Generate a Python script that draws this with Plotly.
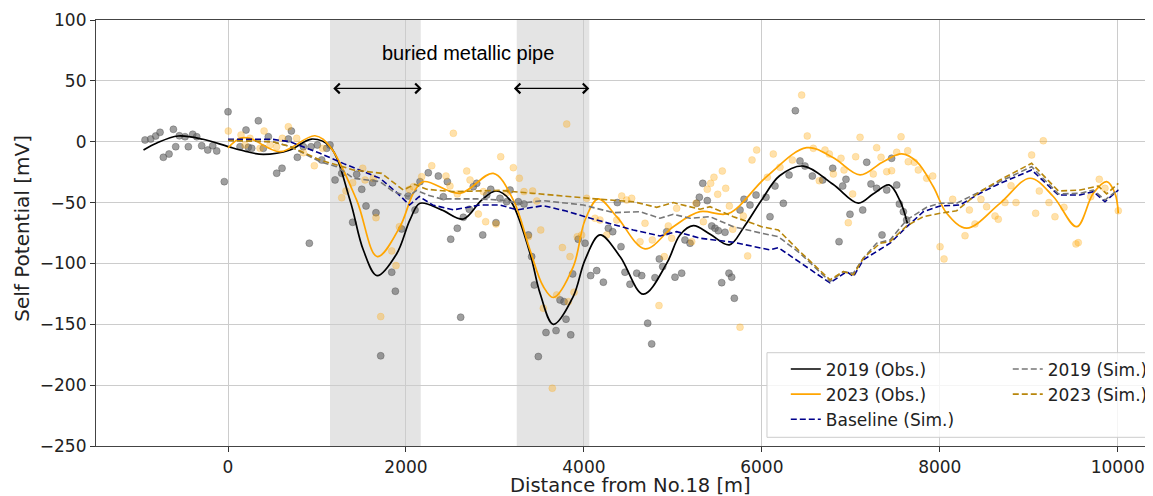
import plotly.graph_objects as go

# ---------------- data ----------------
# scatter observations 2019 (gray)
obs2019_x = [-933, -869, -813, -764, -727, -663, -614, -588, -547, -483, -446, -397, -352, -296, -228, -172, -127, -42,
             0, 135, 202, 228, 266, 341, 397, 453, 547, 607, 678, 712, 779, 847, 914, 933, 1004, 1053, 1109,
             1146, 1203, 1278, 1401, 1446, 1503, 1551, 1626, 1663, 1716, 1840, 1881, 1952, 2027, 2102, 2158,
             2251, 2364, 2420, 2465, 2503, 2577, 2615, 2645, 2712, 2757, 2795, 2863, 2908, 2953, 3012, 3057,
             3132, 3170, 3263, 3327, 3376, 3413, 3443, 3488, 3574, 3687, 3732, 3777, 3799, 3852, 3874, 3937,
             4013, 4076, 4144, 4219, 4275, 4324, 4376, 4417, 4462, 4518, 4594, 4650, 4717, 4762, 4799, 4848,
             4886, 4931, 5024, 5099, 5136, 5193, 5268, 5298, 5336, 5387, 5437, 5474, 5511, 5549, 5586, 5631,
             5661, 5691, 5755, 5800, 5867, 5935, 6047, 6092, 6148, 6242, 6306, 6377, 6429, 6485, 6568, 6684,
             6797, 6868, 6909, 6946, 6991, 7134, 7179, 7227, 7291, 7351, 7404, 7459, 7516, 7546, 7591, 7628]
obs2019_y = [1.4, 2.2, 4.7, 7.7, -12.8, -10.1, 10.2, -4.1, 4.9, 4.1, -4.1, 6.1, 4.1, -3.3, -6.8, -3.3, -7.6, -32.8,
             24.6, -4.1, 9.6, -4.6, -5.4, 17.2, -5.4, 4.1, -25.9, -21.8, 2.2, 8.8, -12.8, -4.1, -83.4, -4.1, -2.7, -15, -5.4,
             -2.7, -31.4, -26, -66.2, -26.8, -39.1, -52.8, -33.7, -58.3, -175.9, -107.2, -122.8, -71.7, -44.6, -56.1, -32.8,
             -25.5, -28.2, -45.2, -32.8, -80.1, -71.1, -144.2, -62.1, -55.5, -36.9, -34.2, -76.6, -43.8, -39.1, -66.5, -46.5,
             -49.3, -39.7, -49.3, -51.2, -76.6, -94.4, -117.7, -176.5, -156.8, -155.2, -130, -131.4, -145.8, -158.7, -108.6, -80.1,
             -83.4, -110, -105.9, -115.4, -71.1, -73.9, -50, -86.2, -107.2, -117.1, -108, -110, -149.1, -166.1, -111.7, -96.3,
             -102.6, -73.9, -111.3, -108, -80.7, -83.4, -50.6, -45.6, -34.2, -48.4, -69.2, -71.1, -73.1, -115.8, -74.4, -108,
             -111.3, -128.6, -56.1, -47.3, -52, -43.8, -45.6, -61.6, -36.4, -50.6, -27.3, 25.5, -15.8, -20, -28.2, -31.4,
             -21.8, -82.1, -36.4, -30.9, -59.6, -56.1, -16.9, -34.7, -38.3, -76.6, -39.7, -13.6, -35.5, -51.1, -57.5, -64.3]

# scatter observations 2023 (orange)
obs2023_x = [3, 146, 191, 247, 360, 405, 472, 547, 610, 678, 772, 847, 970, 1064,
             1278, 1326, 1401, 1514, 1540, 1633, 1663, 1716, 1840, 1888, 1926, 2038, 2083, 2177, 2290, 2450,
             2495, 2533, 2577, 2683, 2720, 2814, 2870, 2896, 3012, 3065, 3132, 3207, 3274, 3327, 3424, 3470,
             3376, 3515, 3544, 3645, 3694, 3758, 3807, 3825, 3844, 3889, 3926, 3975, 4032, 4125, 4181, 4256,
             4369, 4425, 4481, 4537, 4631, 4687, 4769, 4844, 4904, 4949, 4987, 5043, 5212, 5260, 5343, 5387,
             5425, 5462, 5504, 5556, 5594, 5635, 5673, 5755, 5792, 5841, 5890, 5942, 6062, 6129, 6204, 6343,
             6448, 6511, 6579, 6646, 6710, 6759, 6804, 6890, 6924, 6972, 7021, 7055, 7104, 7253, 7291, 7340,
             7404, 7459, 7516, 7565, 7640, 7646, 7714, 7759, 7853, 7921, 8003, 8048, 8145, 8284, 8333, 8396,
             8463, 8527, 8621, 8658, 8733, 8801, 8857, 9033, 9078, 9119, 9164, 9228, 9295, 9396, 9531, 9557,
             9697, 9793, 9857, 10007]
obs2023_y = [8.8, 5.5, -2.7, 2.8, -5.4, 8.8, -2.7, -4.1, 2.8, 12.3, 2.8, -9, -19.7, -5.4,
             -46, -40.5, -33.7, -21.8, -31.4, -30, -62.4, -143.7, -89.7, -101.8, -69.8, -39.1, -36.9, -28.7, -19.7, -28.2,
             -36.4, 6.9, -42.9, -24.1, -31.4, -59.4, -41, -65.7, -67.6, -12.3, -41.9, -21.3, -30, -41, -40.5, -48.7,
             -78, -72.5, -136.8, -202.5, -125.9, -87, 14.5, -131.4, -94.4, -123.6, -78, -76.6, -46.5, -62.9, -64.3, -76.6,
             -64.3, -44.6, -47.9, -46.5, -82.1, -67, -80.7, -134.6, -94.4, -69.2, -79.3, -54.7, -82.1, -50.6, -65.7, -39.1,
             -34.2, -29.2, -43.2, -24.1, -38.3, -52.8, -71.9, -152.4, -61, -93.8, -15, -6.8, -29.2, -10.1, -21, -15,
             38.3, 4.7, -5.4, -32, -6.8, -10.1, -26.5, -13.6, -23.2, -66.5, -42.9, -12.3, 3.6, -26.5, -4.9, -12.8,
             -24.6, -23.8, -8.7, 4.1, -7.4, -16.4, -16.9, -23.2, -30, -28.2, -86.2, -96.3, -47.3, -77.2, -56.1, -67.6,
             -47.3, -53.4, -61, -63.7, -50, -36.1, -50, -10.9, -58.8, -40.5, 0.8, -50, -61.6, -53.9, -84, -82.9,
             -45.2, -30.9, -38.3, -56.7]

# smoothed observed profiles
fit2019_x = [-950, -800, -560, -280, 0, 200, 397, 697, 940, 1146, 1371, 1521, 1675, 1896, 2046, 2158, 2400, 2645,
             2850, 3012, 3170, 3394, 3507, 3657, 3881, 4013, 4181, 4406, 4668, 4931, 5080, 5230, 5420, 5635,
             5800, 5998, 6200, 6467, 6800, 7085, 7250, 7430, 7550, 7636]
fit2019_y = [-6.8, -1, 4.7, 2, -4, -8, -10.4, -6.8, 2.2, -4, -48, -89, -110, -92, -64, -50.6, -56, -63.5,
             -48, -40.5, -48, -91.6, -124.5, -150, -127, -97, -76.6, -94.4, -125.3, -100, -76.6, -69, -76, -84.7,
             -70, -47.9, -28, -20, -35, -50.5, -43, -35.5, -48, -67]

fit2023_x = [0, 135, 240, 584, 978, 1146, 1446, 1678, 1933, 2083, 2196, 2608, 2982, 3207, 3394, 3544, 3657, 3881,
             4013, 4162, 4369, 4687, 5005, 5305, 5623, 6054, 6504, 6800, 7104, 7350, 7572, 7741, 7928, 8078,
             8303, 8677, 9014, 9276, 9539, 9726, 9876, 9970, 10007]
fit2023_y = [-5, 2.8, 3, -8.2, 4.9, -4, -48, -94.4, -69.8, -42.4, -32.8, -42.4, -26, -48, -89, -119, -128, -102.6,
             -64.3, -47, -61.6, -88, -69.8, -57.5, -59, -28.7, -4.9, -13, -27.3, -17, -10, -16.4, -37, -58.8,
             -71, -50.6, -30, -45, -69.8, -42.4, -32.8, -42.4, -58.8]

# simulated profiles
sim_x_base = [0, 500, 697, 1034, 1300, 1708, 1900, 2040, 2150, 2300, 2533, 2832, 3057, 3250, 3544, 3800, 4144,
              4555, 4856, 5043, 5305, 5680, 6092, 6185, 6766, 6954, 7029, 7141, 7441, 7628, 7815, 8003, 8228,
              8452, 8640, 9033, 9333, 9576, 9726, 9857, 10007]
sim_base_y = [2, 2, 0, -9.5, -18, -30, -42, -52, -45, -52, -56, -52, -52, -56, -52.5, -57, -64.3,
              -72.5, -77.4, -73.9, -79.3, -82.6, -88.9, -87, -116, -106.7, -110.8, -97, -83.4, -70, -57.5, -52.8, -52,
              -42.4, -35.5, -23.2, -43.8, -43.8, -41, -49.3, -39.7]

sim2019_x = [0, 500, 700, 1034, 1221, 1409, 1708, 1858, 2027, 2120, 2250, 2400, 2800, 3057, 3282, 3544, 3994,
             4331, 4631, 4856, 5005, 5193, 5418, 5680, 5998, 6185, 6429, 6766, 6916, 7029, 7141, 7291, 7441,
             7628, 7853, 8003, 8190, 8452, 8677, 9033, 9333, 9576, 9726, 9857, 10007]
sim2019_y = [1, 0, -4, -16.4, -20.5, -30, -32.8, -41, -45, -40, -44, -47, -47, -47.9, -50.6, -48.4, -52,
             -58.3, -57.5, -62.9, -59.6, -62.9, -61.6, -69.8, -75.2, -78, -91.6, -114.9, -106.7, -108, -95.7, -83.4, -80.7,
             -64.3, -53.9, -50.6, -50.6, -41, -32.8, -20.5, -42.9, -42.4, -39.7, -47.9, -39.1]

sim2023_x = [0, 500, 700, 1034, 1409, 1727, 1970, 2100, 2233, 2533, 3057, 3282, 4181, 4555, 4818, 5005, 5305,
             5418, 5680, 5998, 6185, 6429, 6766, 6916, 7029, 7141, 7329, 7441, 7628, 7815, 8003, 8190, 8452,
             8677, 9033, 9333, 9576, 9782, 9876, 10007]
sim2023_y = [1, 0, -4, -15, -23.2, -26, -39.7, -35, -39.1, -41, -40, -41.5, -47.3, -49.3, -53.9, -50, -55.5,
             -53.4, -61.6, -69.8, -72.5, -90.3, -113.5, -106.7, -109.4, -95.7, -83.4, -82.1, -69.2, -61.6, -58.8, -56.7, -41,
             -31.4, -17.7, -40.5, -39.7, -36.4, -42.9, -34.2]

pipe_ranges = [(1146, 2166), (3245, 4061)]
arrow_ranges = [(1166, 2177), (3196, 4061)]
arrow_y = 43.8
label_text = "buried metallic pipe"
label_pos = (2692, 72.6)

x_ticks = [0, 2000, 4000, 6000, 8000, 10000]
x_ticktext = ["0", "2000", "4000", "6000", "8000", "10000"]
y_ticks = [-250, -200, -150, -100, -50, 0, 50, 100]
x_title = "Distance from No.18 [m]"
y_title = "Self Potential [mV]"

# ---------------- figure ----------------
fig = go.Figure()

fig.add_trace(go.Scatter(x=obs2019_x, y=obs2019_y, mode="markers", showlegend=False,
                         marker=dict(size=7, color="rgba(100,100,100,0.62)",
                                     line=dict(width=0.6, color="rgba(70,70,70,0.6)"))))
fig.add_trace(go.Scatter(x=obs2023_x, y=obs2023_y, mode="markers", showlegend=False,
                         marker=dict(size=7, color="rgba(255,165,0,0.33)",
                                     line=dict(width=0.6, color="rgba(255,165,0,0.3)"))))

fig.add_trace(go.Scatter(x=fit2019_x, y=fit2019_y, mode="lines", name="2019 (Obs.)", legend="legend",
                         line=dict(color="black", width=1.7, shape="spline", smoothing=1.0)))
fig.add_trace(go.Scatter(x=fit2023_x, y=fit2023_y, mode="lines", name="2023 (Obs.)", legend="legend",
                         line=dict(color="#ffa500", width=1.7, shape="spline", smoothing=1.0)))
fig.add_trace(go.Scatter(x=sim_x_base, y=sim_base_y, mode="lines", name="Baseline (Sim.)", legend="legend",
                         line=dict(color="#00008b", width=1.6, dash="6px,3px")))
fig.add_trace(go.Scatter(x=sim2019_x, y=sim2019_y, mode="lines", name="2019 (Sim.)", legend="legend2",
                         line=dict(color="#777777", width=1.6, dash="6px,3px")))
fig.add_trace(go.Scatter(x=sim2023_x, y=sim2023_y, mode="lines", name="2023 (Sim.)", legend="legend2",
                         line=dict(color="#b8860b", width=1.6, dash="6px,3px")))

shapes = []
for x0, x1 in pipe_ranges:
    shapes.append(dict(type="rect", xref="x", yref="paper", x0=x0, x1=x1, y0=0, y1=1,
                       fillcolor="#e4e4e4", line=dict(width=0), layer="below"))
# legend frame
shapes.append(dict(type="rect", xref="paper", yref="paper", x0=0.6348, x1=0.9972, y0=0.0204, y1=0.219,
                   fillcolor="rgba(255,255,255,0.8)", line=dict(color="#cccccc", width=1), layer="above"))

annotations = []
for a0, a1 in arrow_ranges:
    annotations.append(dict(x=a1, y=arrow_y, ax=a0, ay=arrow_y, xref="x", yref="y", axref="x", ayref="y",
                            text="", showarrow=True, arrowhead=4, startarrowhead=4, arrowside="end+start",
                            arrowsize=1.6, arrowwidth=1.2, arrowcolor="black"))
annotations.append(dict(x=label_pos[0], y=label_pos[1], xref="x", yref="y", text=label_text, showarrow=False,
                        font=dict(family="Liberation Sans, Arial", size=20, color="black")))
annotations.append(dict(x=0.506, y=-0.093, xref="paper", yref="paper", text=x_title, showarrow=False,
                        xanchor="center", yanchor="middle", font=dict(size=19.5, color="#222222")))
annotations.append(dict(x=-0.070, y=0.51, xref="paper", yref="paper", text=y_title, showarrow=False,
                        textangle=-90, xanchor="center", yanchor="middle", font=dict(size=20, color="#222222")))

# the page body adds an 8px offset, so the figure is sized/margined to compensate
fig.update_layout(
    width=1145, height=488,
    margin=dict(l=88, r=0, t=12, b=50, autoexpand=False),
    paper_bgcolor="white", plot_bgcolor="white",
    font=dict(family="DejaVu Sans", size=17, color="#222222"),
    shapes=shapes, annotations=annotations,
    legend=dict(x=0.6526, y=0.222, xanchor="left", yanchor="top", bgcolor="rgba(0,0,0,0)",
                font=dict(size=17, color="#222222"), tracegroupgap=0, itemwidth=30),
    legend2=dict(x=0.8626, y=0.222, xanchor="left", yanchor="top", bgcolor="rgba(0,0,0,0)",
                 font=dict(size=17, color="#222222"), tracegroupgap=0, itemwidth=30),
)

fig.update_xaxes(range=[-1484, 10397], tickvals=x_ticks, ticktext=x_ticktext, ticks="outside", ticklen=5,
                 tickcolor="#333", automargin=False,
                 showline=True, linecolor="#444", linewidth=1.2, mirror=True,
                 showgrid=True, gridcolor="#cccccc", gridwidth=1.2, zeroline=False)
fig.update_yaxes(range=[-250, 100], tickvals=y_ticks, ticks="outside", ticklen=5, tickcolor="#333",
                 automargin=False,
                 showline=True, linecolor="#444", linewidth=1.2, mirror=True,
                 showgrid=True, gridcolor="#cccccc", gridwidth=1.2, zeroline=False)

fig.write_html("out.html")
